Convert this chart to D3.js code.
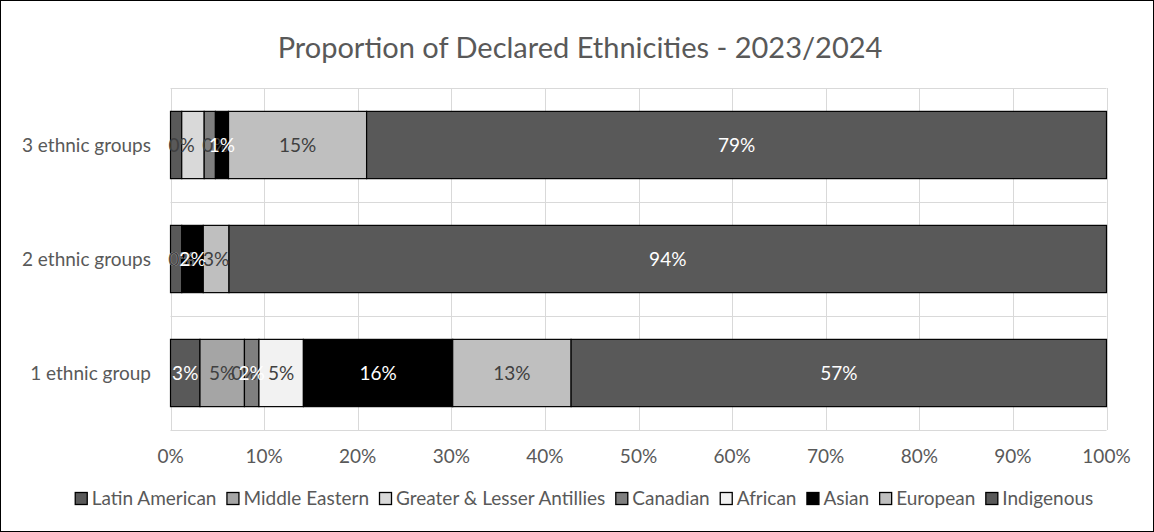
<!DOCTYPE html>
<html>
<head>
<meta charset="utf-8">
<script src="https://cdn.jsdelivr.net/npm/d3@7"></script>
<style>
  html, body { margin: 0; padding: 0; background: #fff; }
  svg { display: block; font-family: Lato, "Open Sans", sans-serif; }
</style>
</head>
<body>
<svg id="chart" width="1154" height="532"></svg>
<script>
// ---- data (percent of declared ethnicities per group) ----
const categories = ["3 ethnic groups", "2 ethnic groups", "1 ethnic group"];
const seriesNames = ["Latin American", "Middle Eastern", "Greater & Lesser Antillies",
  "Canadian", "African", "Asian", "European", "Indigenous"];
const latinAmerican = [1.2, 1.2, 3.15];
const middleEastern = [0, 0, 4.75];
const antilles      = [2.4, 0, 0];
const canadian      = [1.2, 0, 1.55];
const african       = [0, 0, 4.75];
const asian         = [1.4, 2.3, 15.95];
const european      = [14.75, 2.75, 12.65];
const indigenous    = [79.05, 93.75, 57.2];
const xTicks = [0, 10, 20, 30, 40, 50, 60, 70, 80, 90, 100];
const title = "Proportion of Declared Ethnicities - 2023/2024";
// data labels that are not drawn on the chart
const hiddenLabels = [["3 ethnic groups", "Latin American"], ["3 ethnic groups", "Greater & Lesser Antillies"],
  ["3 ethnic groups", "Canadian"], ["2 ethnic groups", "Latin American"]];

const seriesValues = [latinAmerican, middleEastern, antilles, canadian, african, asian, european, indigenous];

// ---- styles ----
const fills = ["#595959", "#a5a5a5", "#d9d9d9", "#7f7f7f", "#f2f2f2", "#000000", "#bfbfbf", "#595959"];
const labelColors = ["#ffffff", "#404040", "#404040", "#ffffff", "#404040", "#ffffff", "#404040", "#ffffff"];
const textGray = "#595959";
const gridColor = "#d9d9d9";

const W = 1154, H = 532;
const plot = { left: 170.5, right: 1106.5, top: 88, bottom: 430 };

const svg = d3.select("#chart");

// chart border
svg.append("rect")
  .attr("x", 0.5).attr("y", 0.5).attr("width", W - 1).attr("height", H - 1)
  .attr("fill", "#fff").attr("stroke", "#000").attr("stroke-width", 1);

// title
svg.append("text")
  .attr("x", W / 2 + 3).attr("y", 58)
  .attr("text-anchor", "middle")
  .attr("font-size", 29)
  .attr("fill", textGray)
  .text(title);

// table built from the arrays
const rows = categories.map((c, i) => {
  const r = { category: c };
  seriesNames.forEach((s, j) => { r[s] = seriesValues[j][i]; });
  return r;
});
const stacked = d3.stack().keys(seriesNames)(rows);

const x = d3.scaleLinear().domain([0, 100]).range([plot.left, plot.right]);
const y = d3.scaleBand().domain(categories).range([plot.top, plot.bottom])
  .paddingInner(0.41).paddingOuter(0.205);

// vertical gridlines
svg.append("g").selectAll("line").data(xTicks).join("line")
  .attr("x1", d => Math.round(x(d)) + 0.5).attr("x2", d => Math.round(x(d)) + 0.5)
  .attr("y1", plot.top).attr("y2", plot.bottom)
  .attr("stroke", gridColor).attr("stroke-width", 1);

// horizontal lines at category boundaries
const step = y.step();
const bounds = d3.range(categories.length + 1).map(i => plot.top + i * step);
svg.append("g").selectAll("line").data(bounds).join("line")
  .attr("x1", plot.left).attr("x2", plot.right)
  .attr("y1", d => Math.round(d) + 0.5).attr("y2", d => Math.round(d) + 0.5)
  .attr("stroke", gridColor).attr("stroke-width", 1);

// bars
const layers = svg.append("g").selectAll("g").data(stacked).join("g")
  .attr("fill", (d, i) => fills[i]);
layers.selectAll("rect").data(d => d).join("rect")
  .attr("x", d => x(d[0]))
  .attr("width", d => x(d[1]) - x(d[0]))
  .attr("y", d => y(d.data.category))
  .attr("height", y.bandwidth())
  .attr("stroke", "#000").attr("stroke-width", 1.2);

// data labels
const fmt = d3.format(".0f");
const isHidden = (cat, s) => hiddenLabels.some(h => h[0] === cat && h[1] === s);
const labelG = svg.append("g");
stacked.forEach((layer, i) => {
  layer.forEach(d => {
    if (isHidden(d.data.category, layer.key)) return;
    labelG.append("text")
      .attr("x", (x(d[0]) + x(d[1])) / 2)
      .attr("y", y(d.data.category) + y.bandwidth() / 2 + 7)
      .attr("text-anchor", "middle")
      .attr("font-size", 19)
      .attr("fill", labelColors[i])
      .text(fmt(d[1] - d[0]) + "%");
  });
});

// category axis labels
svg.append("g").selectAll("text").data(categories).join("text")
  .attr("x", 151)
  .attr("y", d => y(d) + y.bandwidth() / 2 + 7)
  .attr("text-anchor", "end")
  .attr("font-size", 19)
  .attr("fill", textGray)
  .text(d => d);

// value axis tick labels
svg.append("g").selectAll("text").data(xTicks).join("text")
  .attr("x", d => x(d))
  .attr("y", 463)
  .attr("text-anchor", "middle")
  .attr("font-size", 19)
  .attr("fill", textGray)
  .text(d => d + "%");

// legend
const legend = svg.append("g");
const items = seriesNames.map((s, i) => {
  const g = legend.append("g");
  g.append("rect").attr("x", 0.5).attr("y", -12.5).attr("width", 12).attr("height", 12)
    .attr("fill", fills[i]).attr("stroke", "#000").attr("stroke-width", 1.3);
  const t = g.append("text").attr("x", 17).attr("y", 0)
    .attr("font-size", 19).attr("fill", textGray).text(s);
  return { g, w: 17 + t.node().getComputedTextLength() };
});
const gap = 10;
const total = d3.sum(items, d => d.w) + gap * (items.length - 1);
let cx = (W - total) / 2 + 7;
items.forEach(it => {
  it.g.attr("transform", `translate(${cx},505)`);
  cx += it.w + gap;
});
</script>
</body>
</html>
